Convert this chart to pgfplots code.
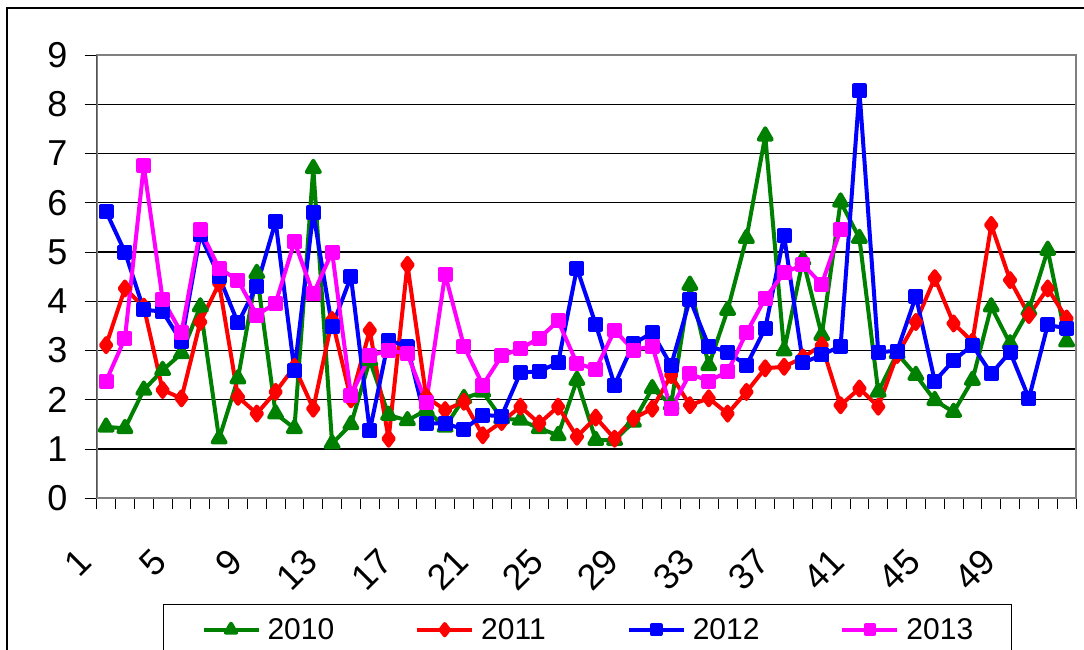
\documentclass[border=0pt]{standalone}
\usepackage{fontspec}
\setmainfont{Liberation Sans}
\usepackage{pgfplots}
\pgfplotsset{compat=1.18}
\definecolor{cgreen}{RGB}{0,128,0}
\definecolor{cred}{RGB}{255,0,0}
\definecolor{cblue}{RGB}{0,0,255}
\definecolor{cmag}{RGB}{255,0,255}
\begin{document}
\begin{tikzpicture}[x=1pt,y=1pt]
\clip (0,0) rectangle (1084,-650);
\fill[white] (0,0) rectangle (1084,-650);
\draw[black, line width=1.5pt] (7,-8) rectangle (1200,-800);
\begin{axis}[
  at={(96.7pt,-498.3pt)}, anchor=south west,
  scale only axis, width=979.3pt, height=443.3pt,
  xmin=0.5, xmax=52.5, ymin=0, ymax=9,
  xtick={1,5,...,49},
  minor xtick={0.5,1.5,...,52.5},
  ytick={0,1,...,9},
  tick align=outside,
  major tick length=12pt, minor tick length=11pt,
  every major x tick/.append style={draw=none},
  xtick pos=bottom, ytick pos=left,
  tick style={black, line width=1pt},
  ymajorgrids,
  grid style={black, line width=1.2pt},
  axis line style={draw=black!50, line width=2pt},
  /pgf/number format/assume math mode=true,
  yticklabel style={font=\fontsize{36}{40}\selectfont, inner sep=0pt, anchor=east, xshift=-17pt},
  xticklabel style={font=\fontsize{36}{40}\selectfont, inner sep=0pt, xshift=-21pt, yshift=-45pt, rotate=45, anchor=east},
  legend columns=4,
  legend style={at={(0.0677,-0.2384)}, anchor=north west, draw=black, line width=1pt,
    font=\fontsize{30}{34}\selectfont, inner xsep=38pt, inner ysep=14pt,
    nodes={inner sep=0pt},
    /tikz/every odd column/.append style={column sep=7pt},
    /tikz/every even column/.append style={column sep=81pt}},
  legend image code/.code={\draw[mark repeat=2,mark phase=2,#1,mark options={solid,scale=0.8}] plot coordinates {(0pt,0pt) (27.5pt,0pt) (55pt,0pt)};},
  every axis plot/.append style={line width=4pt, line join=round},
]
\addplot[color=cgreen, mark=triangle*, mark size=7.5pt] coordinates {
(1,1.45)(2,1.42)(3,2.2)(4,2.6)(5,2.94)(6,3.89)(7,1.21)(8,2.43)(9,4.57)(10,1.72)
(11,1.42)(12,6.7)(13,1.11)(14,1.5)(15,2.8)(16,1.69)(17,1.58)(18,1.79)(19,1.45)(20,2.03)
(21,2.16)(22,1.62)(23,1.59)(24,1.42)(25,1.28)(26,2.4)(27,1.18)(28,1.18)(29,1.55)(30,2.23)
(31,1.9)(32,4.33)(33,2.7)(34,3.82)(35,5.28)(36,7.36)(37,3.0)(38,4.84)(39,3.31)(40,6.02)
(41,5.28)(42,2.16)(43,2.94)(44,2.5)(45,1.99)(46,1.75)(47,2.4)(48,3.89)(49,3.14)(50,3.82)
(51,5.04)(52,3.18)};
\addlegendentry{2010}
\addplot[color=cred, mark=diamond*, mark size=7pt] coordinates {
(1,3.11)(2,4.26)(3,3.89)(4,2.2)(5,2.03)(6,3.58)(7,4.36)(8,2.06)(9,1.72)(10,2.16)
(11,2.67)(12,1.82)(13,3.62)(14,2.01)(15,3.41)(16,1.21)(17,4.74)(18,2.06)(19,1.79)(20,1.96)
(21,1.28)(22,1.55)(23,1.86)(24,1.52)(25,1.86)(26,1.25)(27,1.64)(28,1.21)(29,1.62)(30,1.82)
(31,2.5)(32,1.89)(33,2.03)(34,1.72)(35,2.16)(36,2.64)(37,2.67)(38,2.86)(39,3.11)(40,1.89)
(41,2.23)(42,1.86)(43,2.91)(44,3.58)(45,4.47)(46,3.55)(47,3.18)(48,5.55)(49,4.43)(50,3.72)
(51,4.26)(52,3.65)};
\addlegendentry{2011}
\addplot[color=cblue, mark=square*, mark size=5.5pt] coordinates {
(1,5.82)(2,5.0)(3,3.83)(4,3.79)(5,3.18)(6,5.35)(7,4.5)(8,3.56)(9,4.31)(10,5.62)
(11,2.59)(12,5.8)(13,3.48)(14,4.5)(15,1.37)(16,3.21)(17,3.08)(18,1.52)(19,1.52)(20,1.4)
(21,1.69)(22,1.67)(23,2.55)(24,2.58)(25,2.75)(26,4.67)(27,3.53)(28,2.3)(29,3.14)(30,3.36)
(31,2.7)(32,4.04)(33,3.09)(34,2.97)(35,2.7)(36,3.45)(37,5.33)(38,2.75)(39,2.91)(40,3.09)
(41,8.27)(42,2.97)(43,2.99)(44,4.1)(45,2.38)(46,2.8)(47,3.11)(48,2.53)(49,2.97)(50,2.03)
(51,3.52)(52,3.45)};
\addlegendentry{2012}
\addplot[color=cmag, mark=square*, mark size=5.5pt] coordinates {
(1,2.38)(2,3.25)(3,6.75)(4,4.04)(5,3.36)(6,5.45)(7,4.67)(8,4.43)(9,3.72)(10,3.96)
(11,5.21)(12,4.15)(13,5.0)(14,2.09)(15,2.89)(16,3.01)(17,2.93)(18,1.94)(19,4.55)(20,3.09)
(21,2.3)(22,2.89)(23,3.04)(24,3.25)(25,3.6)(26,2.74)(27,2.62)(28,3.41)(29,3.01)(30,3.09)
(31,1.82)(32,2.53)(33,2.38)(34,2.57)(35,3.36)(36,4.06)(37,4.58)(38,4.74)(39,4.35)(40,5.45)};
\addlegendentry{2013}
\draw[black, line width=1.5pt] (rel axis cs:0,0) -- (rel axis cs:0,1);
\end{axis}
\end{tikzpicture}
\end{document}
